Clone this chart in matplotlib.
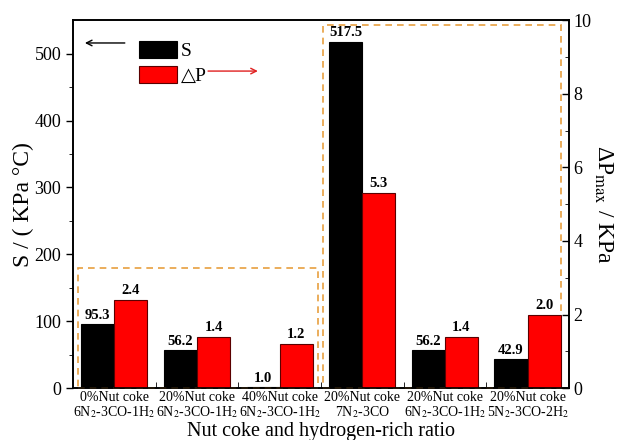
import matplotlib
matplotlib.use("Agg")
import matplotlib.pyplot as plt
import numpy as np
from matplotlib.patches import Rectangle

plt.rcParams['font.family'] = ['Liberation Serif', 'DejaVu Serif']
plt.rcParams['mathtext.fontset'] = 'stix'

# 数据
groups = ["0%Nut coke\n6N$_2$-3CO-1H$_2$",
          "20%Nut coke\n6N$_2$-3CO-1H$_2$",
          "40%Nut coke\n6N$_2$-3CO-1H$_2$",
          "20%Nut coke\n7N$_2$-3CO",
          "20%Nut coke\n6N$_2$-3CO-1H$_2$",
          "20%Nut coke\n5N$_2$-3CO-2H$_2$"]
S = [95.3, 56.2, 1.0, 517.5, 56.2, 42.9]
dP = [2.4, 1.4, 1.2, 5.3, 1.4, 2.0]

x = np.arange(len(groups))
w = 0.4

fig = plt.figure(figsize=(6.19, 4.4), dpi=100)
ax = fig.add_axes([0.118, 0.118, 0.801, 0.836])
ax2 = ax.twinx()

bs = ax.bar(x - w/2, S, w, color='black', edgecolor='black', linewidth=0.8, label='S')
bp = ax2.bar(x + w/2, dP, w, color='#ff0000', edgecolor='#5a0000', linewidth=0.8, label='\u25b3P')

for xi, v in zip(x, S):
    ax.text(xi - w/2, v + 4, "%.1f" % v, ha='center', va='bottom', fontsize=10.5, fontweight='bold')
for xi, v in zip(x, dP):
    ax2.text(xi + w/2, v + 0.08, "%.1f" % v, ha='center', va='bottom', fontsize=10.5, fontweight='bold')

ax.set_xlim(-0.5, len(groups) - 0.5)
ax.set_ylim(0, 550)
ax2.set_ylim(0, 10)

ax.set_xticks(x)
ax.set_xticklabels(groups, fontsize=10, linespacing=1.0)
ax.tick_params(axis='x', length=0, pad=2)
ax.set_xticks(x[:-1] + 0.5, minor=True)
ax.tick_params(axis='x', which='minor', direction='in', length=4)

ax.set_yticks([0, 100, 200, 300, 400, 500])
ax.set_yticks([50, 150, 250, 350, 450], minor=True)
ax.tick_params(axis='y', labelsize=13, length=5, width=1)
ax.tick_params(axis='y', which='minor', length=3)
ax2.set_yticks([0, 2, 4, 6, 8, 10])
ax2.set_yticks([1, 3, 5, 7, 9], minor=True)
ax2.tick_params(axis='y', labelsize=13, direction='in', length=5, width=1)
ax2.tick_params(axis='y', which='minor', direction='in', length=3)

for a in (ax, ax2):
    for sp in a.spines.values():
        sp.set_linewidth(1.2)

ax.set_xlabel("Nut coke and hydrogen-rich ratio", fontsize=14.5, labelpad=2)
ax.set_ylabel("S / ( KPa \u00b0C)", fontsize=17, labelpad=0)
ax2.set_ylabel("\u0394P$_{\\rm max}$ / KPa", fontsize=17, rotation=270, labelpad=16)

# 虚线框
orange = '#e8a040'
ax.add_patch(Rectangle((-0.44, 0), 2.9, 180, fill=False, edgecolor=orange,
                       linestyle=(0, (4, 3)), linewidth=1.2, zorder=5, clip_on=False))
ax.add_patch(Rectangle((2.52, 0), 2.89, 543, fill=False, edgecolor=orange,
                       linestyle=(0, (4, 3)), linewidth=1.2, zorder=5, clip_on=False))

# 图例与箭头
leg = ax.legend(handles=[bs, bp], loc='upper left', bbox_to_anchor=(0.117, 0.966),
                frameon=False, fontsize=14, handlelength=1.95, handleheight=1.0,
                handletextpad=0.2, labelspacing=0.3, borderaxespad=0)
ax.annotate('', xy=(-0.39, 516), xytext=(0.16, 516),
            arrowprops=dict(arrowstyle='->', color='black', lw=1.0))
ax.annotate('', xy=(1.77, 474), xytext=(1.10, 474),
            arrowprops=dict(arrowstyle='->', color='#e02020', lw=1.0))

plt.savefig('out.png', dpi=100)
